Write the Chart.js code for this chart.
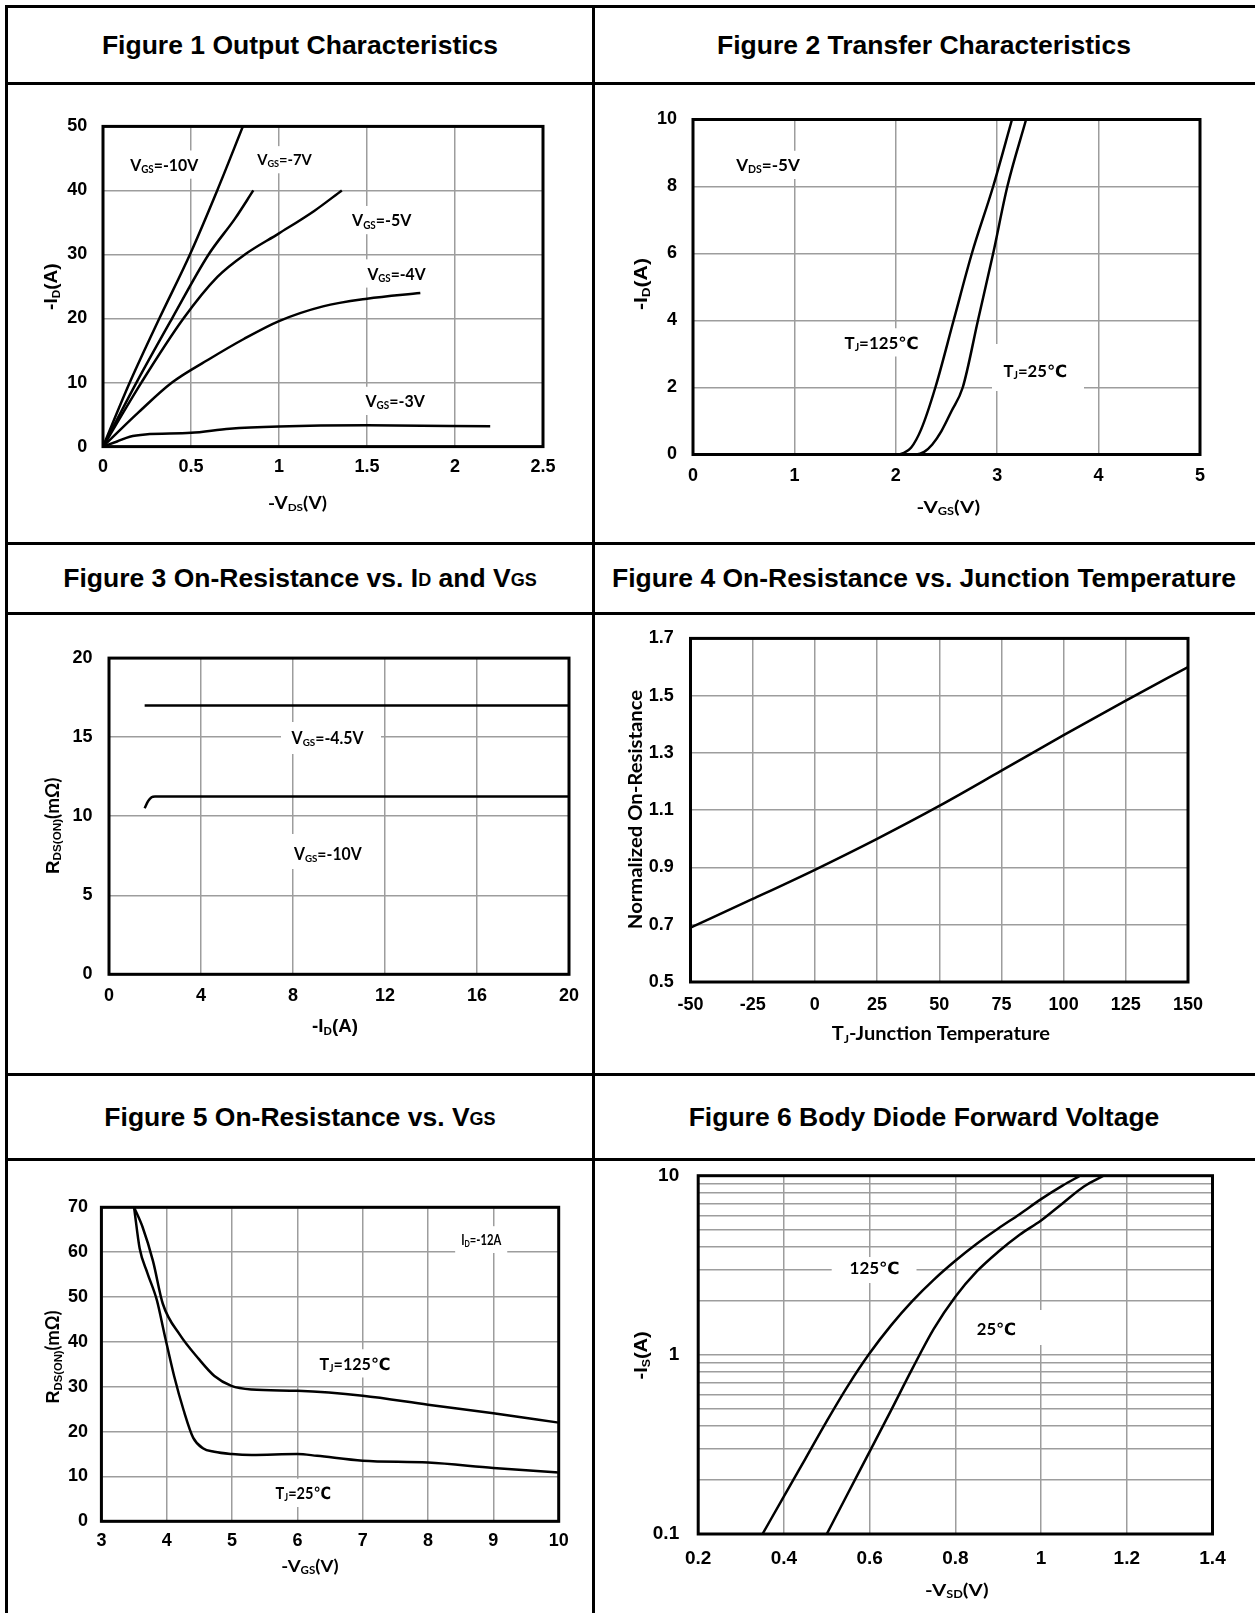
<!DOCTYPE html>
<html>
<head>
<meta charset="utf-8">
<script src="https://cdn.jsdelivr.net/npm/chart.js@4.4.1/dist/chart.umd.min.js"></script>
<style>
    html, body { margin: 0; padding: 0; background: #fff; }
    #page { position: relative; width: 1255px; height: 1613px; overflow: hidden; background: #fff; }
    .ln { position: absolute; background: #000; }
    .ttl {
        position: absolute; display: flex; align-items: center; justify-content: center;
        font: bold 26.5px "Liberation Sans", Arial, sans-serif; color: #000; white-space: nowrap;
    }
    .ttl .s { font-size: 0.68em; position: relative; top: 2px; }
    canvas { position: absolute; }
</style>
</head>
<body>
<div id="page">
    <!-- table lines -->
    <div class="ln" style="left:5px;top:5px;width:1250px;height:3px"></div>
    <div class="ln" style="left:5px;top:5px;width:3px;height:1608px"></div>
    <div class="ln" style="left:592px;top:5px;width:3px;height:1608px"></div>
    <div class="ln" style="left:5px;top:82px;width:1250px;height:3px"></div>
    <div class="ln" style="left:5px;top:542px;width:1250px;height:3px"></div>
    <div class="ln" style="left:5px;top:612px;width:1250px;height:3px"></div>
    <div class="ln" style="left:5px;top:1073px;width:1250px;height:3px"></div>
    <div class="ln" style="left:5px;top:1158px;width:1250px;height:3px"></div>

    <!-- titles -->
    <div class="ttl" style="left:8px;top:8px;width:584px;height:74px">Figure 1 Output Characteristics</div>
    <div class="ttl" style="left:596px;top:8px;width:656px;height:74px">Figure 2 Transfer Characteristics</div>
    <div class="ttl" style="left:8px;top:545px;width:584px;height:67px">Figure 3 On-Resistance vs. I<span class="s">D</span>&nbsp;and V<span class="s">GS</span></div>
    <div class="ttl" style="left:596px;top:545px;width:656px;height:67px">Figure 4 On-Resistance vs. Junction Temperature</div>
    <div class="ttl" style="left:8px;top:1076px;width:584px;height:82px">Figure 5 On-Resistance vs. V<span class="s">GS</span></div>
    <div class="ttl" style="left:596px;top:1076px;width:656px;height:82px">Figure 6 Body Diode Forward Voltage</div>

    <canvas id="c1" width="583" height="455" style="left:9px;top:86px"></canvas>
    <canvas id="c2" width="659" height="455" style="left:596px;top:86px"></canvas>
    <canvas id="c3" width="583" height="457" style="left:9px;top:615px"></canvas>
    <canvas id="c4" width="659" height="457" style="left:596px;top:615px"></canvas>
    <canvas id="c5" width="583" height="453" style="left:9px;top:1160px"></canvas>
    <canvas id="c6" width="659" height="453" style="left:596px;top:1160px"></canvas>
</div>

<script>
// ---- Figure 1: output characteristics ----
const fig1XTicks = [0, 0.5, 1, 1.5, 2, 2.5];
const fig1YTicks = [0, 10, 20, 30, 40, 50];
const vgs10Vds = [0, 0.152, 0.32, 0.494, 0.649, 0.795];
const vgs10Id = [0, 10, 20, 30, 40, 50];
const vgs7Vds = [0, 0.19, 0.392, 0.6, 0.75, 0.854];
const vgs7Id = [0, 10, 20, 30, 35.6, 40];
const vgs5Vds = [0, 0.218, 0.457, 0.65, 0.806, 1.0, 1.2, 1.357];
const vgs5Id = [0, 10, 20, 26.5, 30, 33.3, 36.8, 40];
const vgs4Vds = [0, 0.2, 0.392, 0.6, 0.8, 1.0, 1.25, 1.5, 1.803];
const vgs4Id = [0, 5.3, 10, 13.6, 16.8, 19.6, 21.9, 23.1, 24];
const vgs3Vds = [0, 0.08, 0.152, 0.24, 0.5, 0.72, 1.0, 1.5, 2.2];
const vgs3Id = [0, 0.8, 1.55, 1.9, 2.15, 2.8, 3.15, 3.33, 3.17];

// ---- Figure 2: transfer characteristics ----
const fig2XTicks = [0, 1, 2, 3, 4, 5];
const fig2YTicks = [0, 2, 4, 6, 8, 10];
const tj125Vgs = [0, 2.0, 2.08, 2.15, 2.25, 2.39, 2.57, 2.75, 2.96, 3.146];
const tj125Id = [0, 0, 0.05, 0.2, 0.75, 2.0, 4.0, 6.0, 8.0, 10];
const tj25Vgs = [0, 2.2, 2.28, 2.36, 2.45, 2.55, 2.66, 2.81, 2.96, 3.1, 3.285];
const tj25Id = [0, 0, 0.08, 0.3, 0.7, 1.3, 2.0, 4.0, 6.0, 8.0, 10];

// ---- Figure 3: on-resistance vs ID ----
const fig3XTicks = [0, 4, 8, 12, 16, 20];
const fig3YTicks = [0, 5, 10, 15, 20];
const vgs45Id = [1.55, 20];
const vgs45Rds = [17, 17];
const vgs10bId = [1.55, 1.7, 1.85, 2.0, 20];
const vgs10bRds = [10.5, 10.95, 11.2, 11.25, 11.25];

// ---- Figure 4: normalized on-resistance vs Tj ----
const fig4XTicks = [-50, -25, 0, 25, 50, 75, 100, 125, 150];
const fig4YTicks = [0.5, 0.7, 0.9, 1.1, 1.3, 1.5, 1.7];
const tempC = [-50, -25, 0, 25, 50, 75, 100, 125, 150];
const normRds = [0.69, 0.79, 0.892, 1.0, 1.115, 1.238, 1.362, 1.483, 1.6];

// ---- Figure 5: on-resistance vs VGS ----
const fig5XTicks = [3, 4, 5, 6, 7, 8, 9, 10];
const fig5YTicks = [0, 10, 20, 30, 40, 50, 60, 70];
const rds125Vgs = [3.5, 3.63, 3.79, 3.94, 4.2, 4.49, 4.73, 4.99, 5.3, 6.0, 7.0, 8.0, 9.0, 10];
const rds125 = [70, 65.6, 58, 48.5, 41.6, 36.2, 32.4, 30.2, 29.4, 29.1, 28, 26, 24.1, 22];
const rds25Vgs = [3.5, 3.586, 3.703, 3.849, 3.967, 4.113, 4.26, 4.406, 4.553, 4.728, 5.0, 5.3, 6.0, 6.3, 7.0, 8.0, 9.0, 10];
const rds25 = [70, 60.8, 55.4, 49.3, 41.6, 32.4, 24.7, 18.6, 16.3, 15.5, 15, 14.8, 15, 14.6, 13.5, 13.1, 11.9, 10.9];

// ---- Figure 6: body diode forward voltage ----
const fig6XTicks = [0.2, 0.4, 0.6, 0.8, 1, 1.2, 1.4];
const fig6YGrid = [0.1, 0.2, 0.3, 0.4, 0.5, 0.6, 0.7, 0.8, 0.9, 1, 2, 3, 4, 5, 6, 7, 8, 9, 10];
const fig6YLabels = [0.1, 1, 10];
const vsd125 = [0.35, 0.40, 0.45, 0.50, 0.55, 0.60, 0.65, 0.70, 0.75, 0.80, 0.85, 0.90, 0.95, 1.00, 1.05, 1.091];
const is125 = [0.1, 0.162, 0.263, 0.427, 0.676, 1.02, 1.46, 2.0, 2.63, 3.35, 4.17, 5.07, 6.1, 7.4, 8.8, 10];
const vsd25 = [0.5, 0.55, 0.60, 0.65, 0.70, 0.75, 0.80, 0.85, 0.90, 0.95, 1.00, 1.05, 1.10, 1.146];
const is25 = [0.1, 0.17, 0.288, 0.49, 0.84, 1.40, 2.11, 2.92, 3.76, 4.68, 5.62, 7.0, 8.7, 10];

const ARIAL = '"Liberation Sans", Arial, sans-serif';
const CALIBRI = 'Lato, "DejaVu Sans", sans-serif';

// text piece helpers: a = arial-ish, c = calibri-ish, sub = subscript
const a = (s, sub) => ({ s, f: ARIAL, sub: !!sub });
const c = (s, sub) => ({ s, f: CALIBRI, sub: !!sub });

function fontFor(p, size) {
    const s = p.sub ? size * 0.62 : size;
    return 'bold ' + s.toFixed(2) + 'px ' + p.f;
}

// draw a line of mixed text centred on x, baseline y (page coords), squeezed to width w
function drawRich(ctx, t, ox, oy) {
    const widths = [];
    let total = 0;
    t.parts.forEach(p => {
        ctx.font = fontFor(p, t.size);
        const w = ctx.measureText(p.s).width;
        widths.push(w);
        total += w;
    });
    const sx = t.w ? t.w / total : 1;
    const shown = total * sx;

    if (t.box) {
        ctx.fillStyle = '#fff';
        if (Array.isArray(t.box)) {
            ctx.fillRect(t.box[0] - ox, t.box[1] - oy, t.box[2] - t.box[0], t.box[3] - t.box[1]);
        } else {
            const cap = t.size * 0.72;
            ctx.fillRect(t.x - shown / 2 - 6 - ox, t.y - cap - 8 - oy, shown + 12, cap + 16);
        }
    }

    ctx.save();
    ctx.translate(t.x - ox, t.y - oy);
    if (t.rot) ctx.rotate(-Math.PI / 2);
    ctx.scale(sx, 1);
    ctx.fillStyle = '#000';
    ctx.textAlign = 'left';
    ctx.textBaseline = 'alphabetic';
    let x = -total / 2;
    t.parts.forEach((p, i) => {
        ctx.font = fontFor(p, t.size);
        ctx.fillText(p.s, x, p.sub ? t.size * 0.14 : 0);
        x += widths[i];
    });
    ctx.restore();
}

function buildChart(cfg) {
    const cv = document.getElementById(cfg.id);
    const ox = parseFloat(cv.style.left);
    const oy = parseFloat(cv.style.top);
    const W = cv.width, H = cv.height;
    const [L, T, R, B] = cfg.plot;
    const yAxisW = L - ox - 2;
    const xAxisH = oy + H - B - 2;
    const tickFont = { family: ARIAL, size: cfg.tickSize || 18, weight: 'bold' };
    const grid = { color: '#9d9d9d', lineWidth: 1.5, drawTicks: false };

    const decor = {
        id: 'decor',
        beforeDatasetsDraw(chart) {
            (cfg.notes || []).forEach(n => drawRich(chart.ctx, Object.assign({ box: true }, n), ox, oy));
        },
        afterDatasetsDraw(chart) {
            const ctx = chart.ctx, ca = chart.chartArea;
            ctx.save();
            ctx.strokeStyle = '#000';
            ctx.lineWidth = 3;
            ctx.strokeRect(ca.left, ca.top, ca.right - ca.left, ca.bottom - ca.top);
            ctx.restore();
        },
        afterDraw(chart) {
            (cfg.titles || []).forEach(n => drawRich(chart.ctx, n, ox, oy));
        }
    };

    // axes keep a fixed size so the plot box lands where the reference has it
    const fixX = s => { s.height = xAxisH; s.paddingLeft = 0; s.paddingRight = 0; };
    const fixY = s => { s.width = yAxisW; s.paddingTop = 0; s.paddingBottom = 0; };

    return new Chart(cv, {
        type: 'line',
        data: {
            datasets: cfg.series.map(s => ({
                data: s.x.map((x, i) => ({ x: x, y: s.y[i] })),
                borderColor: '#000',
                borderWidth: 2.5,
                pointRadius: 0,
                fill: false,
                cubicInterpolationMode: 'monotone'
            }))
        },
        options: {
            responsive: false,
            animation: false,
            devicePixelRatio: 1,
            events: [],
            layout: { padding: { left: 2, top: T - oy, right: ox + W - R, bottom: 2 } },
            plugins: { legend: { display: false }, tooltip: { enabled: false } },
            scales: {
                x: {
                    type: 'linear',
                    min: cfg.xTicks[0],
                    max: cfg.xTicks[cfg.xTicks.length - 1],
                    grid: grid,
                    border: { display: false },
                    ticks: {
                        font: tickFont, color: '#000', padding: cfg.xPad,
                        autoSkip: false, maxRotation: 0, minRotation: 0,
                        callback: v => String(v)
                    },
                    afterBuildTicks: s => { s.ticks = cfg.xTicks.map(v => ({ value: v })); },
                    afterFit: fixX
                },
                y: {
                    type: cfg.yType || 'linear',
                    min: cfg.yTicks[0],
                    max: cfg.yTicks[cfg.yTicks.length - 1],
                    grid: grid,
                    border: { display: false },
                    ticks: {
                        font: tickFont, color: '#000', padding: cfg.yPad, autoSkip: false,
                        callback: v => (cfg.yLabels && !cfg.yLabels.includes(v)) ? '' : String(v)
                    },
                    afterBuildTicks: s => { s.ticks = cfg.yTicks.map(v => ({ value: v })); },
                    afterFit: fixY
                }
            }
        },
        plugins: [decor]
    });
}

document.addEventListener('DOMContentLoaded', function() {
    buildChart({
        id: 'c1', plot: [103, 126.4, 543, 446.6], xPad: 9.8, yPad: 15.7,
        xTicks: fig1XTicks, yTicks: fig1YTicks,
        series: [
            { x: vgs10Vds, y: vgs10Id }, { x: vgs7Vds, y: vgs7Id }, { x: vgs5Vds, y: vgs5Id },
            { x: vgs4Vds, y: vgs4Id }, { x: vgs3Vds, y: vgs3Id }
        ],
        notes: [
            { parts: [c('V'), c('GS', 1), c('=-10V')], x: 164.2, y: 170.7, size: 17, w: 68 },
            { parts: [c('V'), c('GS', 1), c('=-7V')], x: 284.5, y: 165.3, size: 15.5, w: 54.7 },
            { parts: [c('V'), c('GS', 1), c('=-5V')], x: 381.7, y: 226.2, size: 17, w: 59.3 },
            { parts: [c('V'), c('GS', 1), c('=-4V')], x: 396.5, y: 279.6, size: 17, w: 58.2 },
            { parts: [c('V'), c('GS', 1), c('=-3V')], x: 395.1, y: 407, size: 17, w: 59.3 }
        ],
        titles: [
            { parts: [a('-I'), a('D', 1), a('(A)')], x: 57.4, y: 286.7, rot: true, size: 18, w: 46.5 },
            { parts: [c('-V'), c('DS', 1), c('(V)')], x: 297.5, y: 509, size: 16.5, w: 59 }
        ]
    });

    buildChart({
        id: 'c2', plot: [693, 119.5, 1200, 454.5], xPad: 10.8, yPad: 16,
        xTicks: fig2XTicks, yTicks: fig2YTicks,
        series: [{ x: tj125Vgs, y: tj125Id }, { x: tj25Vgs, y: tj25Id }],
        notes: [
            { parts: [c('V'), c('DS', 1), c('=-5V')], x: 768, y: 171, size: 17, w: 63.6 },
            { parts: [c('T'), c('J', 1), c('=125℃')], x: 881.6, y: 348.5, size: 17, w: 74.2 },
            { parts: [c('T'), c('J', 1), c('=25℃')], x: 1035.3, y: 377, size: 17, w: 63.6, box: [992, 344, 1084, 391] }
        ],
        titles: [
            { parts: [a('-I'), a('D', 1), a('(A)')], x: 647.3, y: 284, rot: true, size: 19, w: 52 },
            { parts: [c('-V'), c('GS', 1), c('(V)')], x: 948.3, y: 513, size: 17, w: 63.6 }
        ]
    });

    buildChart({
        id: 'c3', plot: [109, 658.1, 569, 974.3], xPad: 11.2, yPad: 16.4,
        xTicks: fig3XTicks, yTicks: fig3YTicks,
        series: [{ x: vgs45Id, y: vgs45Rds }, { x: vgs10bId, y: vgs10bRds }],
        notes: [
            { parts: [c('V'), c('GS', 1), c('=-4.5V')], x: 327.6, y: 744, size: 16.5, w: 72, box: [281, 722, 381, 754] },
            { parts: [c('V'), c('GS', 1), c('=-10V')], x: 327.8, y: 860, size: 16.5, w: 67.7, box: [283, 834, 373, 869] }
        ],
        titles: [
            { parts: [a('R'), a('DS(ON)', 1), c('(mΩ)')], x: 58.5, y: 825.8, rot: true, size: 18, w: 96.4 },
            { parts: [a('-I'), a('D', 1), a('(A)')], x: 335, y: 1032, size: 18, w: 46 }
        ]
    });

    buildChart({
        id: 'c4', plot: [690.5, 638.4, 1188, 982], xPad: 12, yPad: 16.7,
        xTicks: fig4XTicks, yTicks: fig4YTicks,
        series: [{ x: tempC, y: normRds }],
        titles: [
            { parts: [c('Normalized On-Resistance')], x: 641.5, y: 809.5, rot: true, size: 19, w: 239.3 },
            { parts: [c('T'), c('J', 1), c('-Junction Temperature')], x: 940.9, y: 1040, size: 18, w: 218.3 }
        ]
    });

    buildChart({
        id: 'c5', plot: [101.4, 1207.3, 558.7, 1521.3], xPad: 8.5, yPad: 13.4,
        xTicks: fig5XTicks, yTicks: fig5YTicks,
        series: [{ x: rds125Vgs, y: rds125 }, { x: rds25Vgs, y: rds25 }],
        notes: [
            { parts: [c('I'), c('D', 1), c('=-12A')], x: 481.2, y: 1245, size: 15, w: 40.1 },
            { parts: [c('T'), c('J', 1), c('=125℃')], x: 355, y: 1369.5, size: 17, w: 70.8 },
            { parts: [c('T'), c('J', 1), c('=25℃')], x: 303.3, y: 1499, size: 17, w: 55.5 }
        ],
        titles: [
            { parts: [a('R'), a('DS(ON)', 1), c('(mΩ)')], x: 59.3, y: 1357, rot: true, size: 18, w: 93 },
            { parts: [c('-V'), c('GS', 1), c('(V)')], x: 310, y: 1572, size: 17, w: 57.4 }
        ]
    });

    buildChart({
        id: 'c6', plot: [698.2, 1175.7, 1212.5, 1534], xPad: 13.5, yPad: 19, tickSize: 19,
        xTicks: fig6XTicks, yTicks: fig6YGrid, yLabels: fig6YLabels, yType: 'logarithmic',
        series: [{ x: vsd125, y: is125 }, { x: vsd25, y: is25 }],
        notes: [
            { parts: [c('125℃')], x: 874.6, y: 1274, size: 17, w: 50.1, box: [831.7, 1257, 916.5, 1283] },
            { parts: [c('25℃')], x: 996.5, y: 1334.5, size: 17, w: 39.4, box: [965, 1310, 1045, 1345] }
        ],
        titles: [
            { parts: [a('-I'), a('S', 1), a('(A)')], x: 647, y: 1355.4, rot: true, size: 19, w: 48.2 },
            { parts: [c('-V'), c('SD', 1), c('(V)')], x: 956.8, y: 1596, size: 17, w: 63.6 }
        ]
    });
});
</script>
</body>
</html>
